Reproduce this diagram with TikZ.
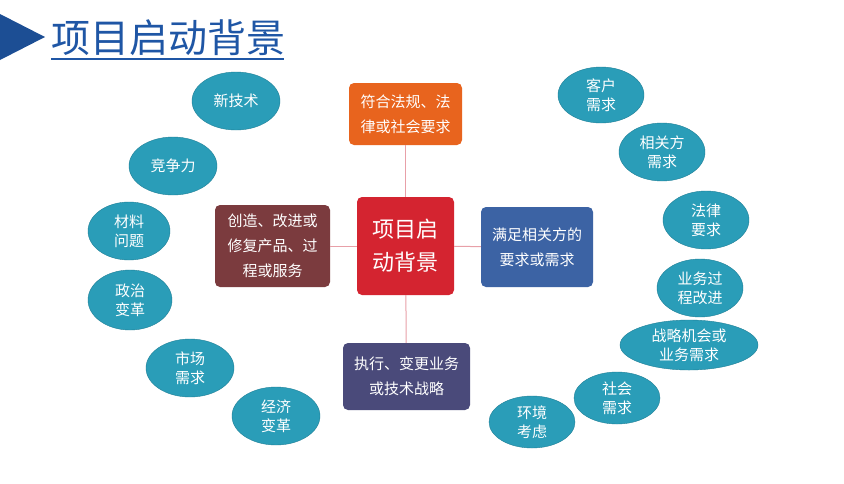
\documentclass[tikz,border=0pt]{standalone}
\usepackage{fontspec}
\setmainfont{Noto Sans CJK SC}
\usetikzlibrary{shapes.geometric, positioning}
\definecolor{teal2}{HTML}{2A9DB8}
\definecolor{tealline}{HTML}{1F7F96}
\definecolor{titleblue}{HTML}{1F56A5}
\definecolor{linkpink}{HTML}{E8A0A8}
\tikzset{
  bubble/.style={ellipse, fill=teal2, draw=tealline, text=white, align=center,
    inner sep=0pt, font=\fontsize{15}{19}\selectfont},
  box/.style={rounded corners=5pt, text=white, align=center, inner sep=0pt,
    font=\fontsize{15}{25}\selectfont},
  link/.style={draw=linkpink, line width=1pt}
}
\begin{document}
\begin{tikzpicture}[x=1pt, y=-1pt]
\useasboundingbox[fill=white] (0,0) rectangle (844,483);

% Header
\fill[titleblue!90!black] (0,14) -- (45,37) -- (0,60) -- cycle;
\node[anchor=west, text=titleblue, font=\fontsize{39}{42}\selectfont, inner sep=0pt]
  (title) at (51,38) {项目启动背景};
\draw[titleblue, line width=1.5pt] (title.south west) ++(0,3) -- ++(233,0);

% Center and boxes
\node[box, fill={rgb,255:red,212;green,36;blue,48}, minimum width=97pt, minimum height=98pt,
  font=\fontsize{22}{33}\selectfont] (ctr) at (405.5,246) {项目启\\动背景};
\node[box, fill={rgb,255:red,232;green,100;blue,30}, minimum width=113pt, minimum height=62pt]
  (top) at (405.5,114) {符合法规、法\\律或社会要求};
\node[box, fill={rgb,255:red,123;green,59;blue,62}, minimum width=115pt, minimum height=82pt]
  (left) at (272.5,246) {创造、改进或\\修复产品、过\\程或服务};
\node[box, fill={rgb,255:red,60;green,99;blue,164}, minimum width=112pt, minimum height=80pt]
  (right) at (537,247) {满足相关方的\\要求或需求};
\node[box, fill={rgb,255:red,74;green,74;blue,122}, minimum width=127pt, minimum height=67pt]
  (bottom) at (406.5,376.5) {执行、变更业务\\或技术战略};

\draw[link] (ctr) -- (top);
\draw[link] (ctr) -- (left);
\draw[link] (ctr) -- (right);
\draw[link] (ctr) -- (bottom);

% Bubbles
\node[bubble, minimum width=88pt, minimum height=58pt] (tech) at (236,101) {新技术};
\node[bubble, minimum width=88pt, minimum height=58pt] (comp) at (173,166) {竞争力};
\node[bubble, minimum width=82pt, minimum height=58pt] (mat) at (129,231) {材料\\问题};
\node[bubble, minimum width=84pt, minimum height=60pt] (pol) at (130,300) {政治\\变革};
\node[bubble, minimum width=88pt, minimum height=58pt] (mkt) at (190,368) {市场\\需求};
\node[bubble, minimum width=88pt, minimum height=58pt] (eco) at (276,416) {经济\\变革};
\node[bubble, minimum width=86pt, minimum height=56pt] (cust) at (601,95) {客户\\需求};
\node[bubble, minimum width=86pt, minimum height=58pt] (stake) at (662,152) {相关方\\需求};
\node[bubble, minimum width=86pt, minimum height=58pt] (law) at (706,220) {法律\\要求};
\node[bubble, minimum width=86pt, minimum height=58pt] (proc) at (700,288) {业务过\\程改进};
\node[bubble, minimum width=138pt, minimum height=50pt] (strat) at (689,345) {战略机会或\\业务需求};
\node[bubble, minimum width=86pt, minimum height=52pt] (soc) at (617,398) {社会\\需求};
\node[bubble, minimum width=86pt, minimum height=52pt] (env) at (532,422) {环境\\考虑};
\end{tikzpicture}
\end{document}
